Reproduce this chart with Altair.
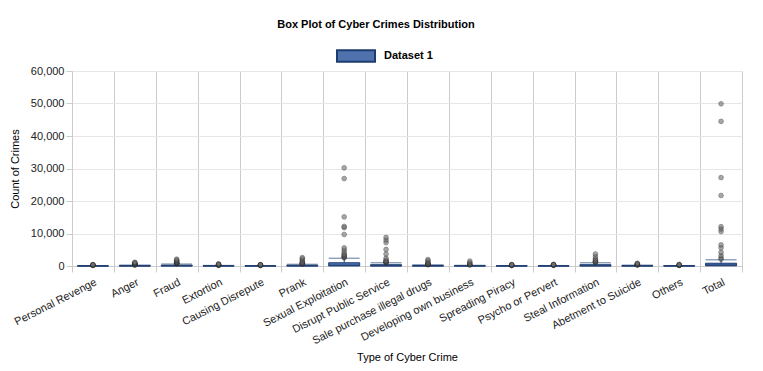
import altair as alt
import pandas as pd

categories = ["Personal Revenge", "Anger", "Fraud", "Extortion", "Causing Disrepute",
              "Prank", "Sexual Exploitation", "Disrupt Public Service",
              "Sale purchase illegal drugs", "Developing own business", "Spreading Piracy",
              "Psycho or Pervert", "Steal Information", "Abetment to Suicide", "Others", "Total"]

q1 = [0, 0, 2, 0, 0, 2, 30, 5, 0, 0, 0, 0, 5, 0, 0, 60]
median = [3, 10, 30, 5, 3, 25, 200, 60, 10, 5, 2, 4, 60, 8, 5, 300]
q3 = [40, 120, 250, 80, 50, 220, 1000, 400, 150, 90, 40, 60, 400, 110, 60, 850]
whisker_low = [0] * 16
whisker_high = [100, 280, 600, 190, 120, 540, 2400, 980, 360, 220, 100, 150, 980, 270, 140, 1900]

outliers = [
    [180, 220, 260, 300, 340, 420],
    [300, 360, 420, 490, 560, 630, 700, 850, 1000, 1150],
    [700, 780, 850, 920, 1000, 1150, 1300, 1550, 1800, 2100],
    [200, 250, 300, 360, 420, 550, 650],
    [150, 200, 250, 300, 350, 450],
    [600, 700, 800, 900, 1000, 1300, 1800, 2200, 2600],
    [2500, 2700, 3000, 3300, 3600, 4200, 4900, 5600, 9700, 11800, 12200, 15100, 26900, 30200],
    [1000, 1100, 1200, 1350, 1500, 1800, 2400, 3700, 5100, 7200, 8000, 8800],
    [400, 450, 500, 600, 700, 900, 1200, 1600, 2000],
    [300, 400, 500, 700, 1000, 1500],
    [150, 200, 250, 300, 350, 450],
    [200, 250, 300, 350, 400, 500],
    [1100, 1200, 1300, 1500, 1800, 2200, 2900, 3700],
    [300, 350, 400, 480, 550, 700, 850],
    [180, 220, 250, 300, 350, 500],
    [2100, 2500, 3200, 4200, 5600, 6500, 10600, 11400, 12100, 21700, 27200, 44500, 49900],
]

y_ticks = [0, 10000, 20000, 30000, 40000, 50000, 60000]
series_name = "Dataset 1"

FONT = "Liberation Sans"
FILL = "#4d72ad"
NAVY = "#1d3c70"

box_df = pd.DataFrame({
    "Type": categories, "q1": q1, "median": median, "q3": q3,
    "low": whisker_low, "high": whisker_high, "series": [series_name] * len(categories),
})
out_df = pd.DataFrame(
    [{"Type": c, "Count": v} for c, vals in zip(categories, outliers) for v in vals]
)

xenc = alt.X(
    "Type:N", sort=categories,
    scale=alt.Scale(domain=categories, paddingInner=0, paddingOuter=0),
    axis=alt.Axis(
        title="Type of Cyber Crime", labelAngle=-27, tickBand="extent",
        labelFont=FONT, labelFontSize=11, labelColor="#222222",
        titleFont=FONT, titleFontSize=11, titleFontWeight="normal", titleColor="#000000",
        titlePadding=6, grid=True, gridColor="#cccccc", domainColor="#cccccc",
        tickColor="#cccccc", tickSize=6, labelPadding=4,
    ),
)
yscale = alt.Scale(domain=[0, 60000], nice=False)


def yaxis():
    return alt.Axis(
        title="Count of Crimes", values=y_ticks,
        format=",.0f", labelFont=FONT, labelFontSize=11, labelColor="#222222",
        titleFont=FONT, titleFontSize=11, titleFontWeight="normal", titleColor="#000000",
        gridColor="#e6e6e6", domainColor="#cccccc", tickColor="#cccccc", tickSize=6,
        titlePadding=10,
    )


def yenc(field):
    return alt.Y(field, scale=yscale, axis=yaxis(), title="Count of Crimes")


base = alt.Chart(box_df)

whisk = base.mark_rule(color=NAVY, strokeWidth=1).encode(
    x=xenc, y=yenc("low:Q"), y2="high:Q"
)
caps_hi = base.mark_tick(color=NAVY, thickness=1, size=31).encode(
    x=xenc, y=yenc("high:Q")
)
box = base.mark_bar(size=31, stroke=NAVY, strokeWidth=1).encode(
    x=xenc, y=yenc("q1:Q"), y2="q3:Q",
    fill=alt.Fill(
        "series:N", scale=alt.Scale(domain=[series_name], range=[FILL]),
        legend=alt.Legend(
            title=None, orient="none", legendX=264, legendY=-35,
            symbolType="M-1,-0.3H1V0.3H-1Z", symbolSize=1444,
            symbolStrokeColor=NAVY, symbolStrokeWidth=2, symbolOpacity=1,
            labelFont=FONT, labelFontSize=11, labelFontWeight="bold", labelColor="#000000",
            labelOffset=8,
        ),
    ),
)
med = base.mark_tick(color=NAVY, thickness=1.5, size=31).encode(
    x=xenc, y=yenc("median:Q")
)
pts = alt.Chart(out_df).mark_circle(
    size=22, color="#6e6e6e", opacity=0.6, stroke="#222222", strokeWidth=1, strokeOpacity=0.7
).encode(x=xenc, y=yenc("Count:Q"))

chart = alt.layer(whisk, caps_hi, box, med, pts).properties(
    width=670, height=195,
    autosize=alt.AutoSizeParams(type="none"),
    padding={"left": 64, "top": 63, "right": 13, "bottom": 97},
    title=alt.Title("Box Plot of Cyber Crimes Distribution", font=FONT, fontSize=11,
                    fontWeight="bold", color="#000000", anchor="middle", frame="bounds",
                    offset=6),
).configure_view(stroke=None).configure(background="white")

chart.save("out.html", embed_options={"renderer": "svg", "actions": False})
